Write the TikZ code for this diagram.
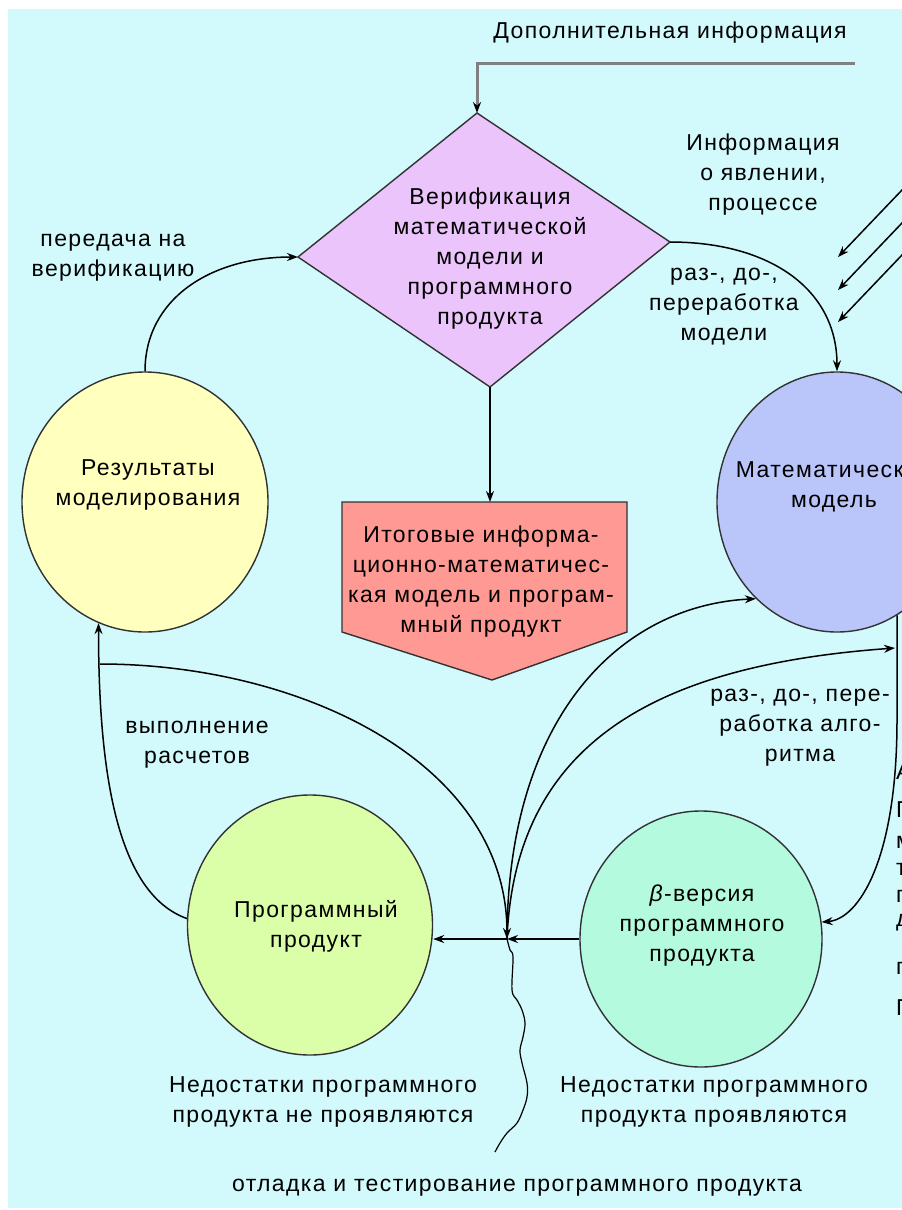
\documentclass[tikz,border=0pt]{standalone}
\usepackage{fontspec}
\setmainfont{Liberation Sans}[LetterSpace=6]
\usetikzlibrary{shapes.geometric,arrows.meta}
\definecolor{bgcyan}{RGB}{210,249,252}
\definecolor{verif}{RGB}{234,196,250}
\definecolor{finalfill}{RGB}{255,153,148}
\definecolor{resfill}{RGB}{255,255,190}
\definecolor{mmfill}{RGB}{186,197,250}
\definecolor{ppfill}{RGB}{218,255,168}
\definecolor{betafill}{RGB}{180,250,222}
\definecolor{edge}{RGB}{50,50,50}
\definecolor{feed}{RGB}{128,128,128}
\begin{document}
\begin{tikzpicture}[x=1pt,y=-1pt,
  lbl/.style={align=center,font=\fontsize{23}{30}\selectfont,inner sep=0pt},
  bubble/.style={ellipse,draw=edge,line width=1.4pt,inner sep=0pt},
  shapeline/.style={draw=edge,line width=1.4pt},
  arr/.style={line width=1.5pt,-{Stealth[length=11pt,width=8pt]}},
  feedline/.style={draw=feed,line width=3pt,-{Stealth[length=11pt,width=8pt,color=black]}},
]
\useasboundingbox (0,0) rectangle (902,1210);
\fill[white] (0,0) rectangle (902,1210);
\clip (0,0) rectangle (902,1210);
\fill[bgcyan] (8,9) rectangle (902,1208);

% verification diamond
\coordinate (dT) at (477,113);
\coordinate (dR) at (670,242);
\coordinate (dB) at (490,387);
\coordinate (dL) at (298,257);
\filldraw[fill=verif,shapeline] (dT) -- (dR) -- (dB) -- (dL) -- cycle;
\node[lbl] (verifT) at (490,259) {Верификация\\математической\\модели и\\программного\\продукта};

% final product (pentagon pointing down)
\coordinate (fTL) at (342,502);
\coordinate (fTR) at (627,502);
\coordinate (fBR) at (627,632);
\coordinate (fB) at (492,680);
\coordinate (fBL) at (342,632);
\coordinate (fTop) at (490,502);
\filldraw[fill=finalfill,shapeline] (fTL) -- (fTR) -- (fBR) -- (fB) -- (fBL) -- cycle;
\node[lbl] (finalT) at (481,582) {Итоговые информа-\\ционно-математичес-\\кая модель и програм-\\мный продукт};

% circles
\node[bubble,fill=resfill,minimum width=246pt,minimum height=260pt] (res) at (145,502) {};
\node[bubble,fill=mmfill,minimum width=240pt,minimum height=260pt] (mm) at (837,502) {};
\node[bubble,fill=ppfill,minimum width=245pt,minimum height=260pt] (pp) at (310,925) {};
\node[bubble,fill=betafill,minimum width=242pt,minimum height=256pt] (beta) at (701,939) {};

\node[lbl] (resT) at (148,485) {Результаты\\моделирования};
\node[lbl] (mmT) at (834,487) {Математическая\\модель};
\node[lbl] (ppT) at (316,926) {Программный\\продукт};
\node[lbl] (betaT) at (702,926) {\textit{β}-версия\\программного\\продукта};

% incoming additional information
\coordinate (addL) at (855,63);
\node[lbl] (addT) at (670,33) {Дополнительная информация};
\draw[feedline] (addL) -| (dT);

% information about the phenomenon
\node[lbl] (infoT) at (763,175) {Информация\\о явлении,\\процессе};
\coordinate (in1) at (966,123);
\coordinate (in2) at (966,156);
\coordinate (in3) at (966,188);
\coordinate (in1e) at (838,257);
\coordinate (in2e) at (838,290);
\coordinate (in3e) at (838,322);
\draw[arr] (in1) -- (in1e);
\draw[arr] (in2) -- (in2e);
\draw[arr] (in3) -- (in3e);

% main connectors
\draw[arr] (res.north) .. controls +(0,-72) and +(-88,0) .. (dL);
\node[lbl] (toVerT) at (113,258) {передача на\\верификацию};

\draw[arr] (dR) .. controls +(100,0) and +(0,-82) .. (mm.north);
\node[lbl] (modT) at (724,307) {раз-, до-,\\переработка\\модели};

\draw[arr] (dB) -- (fTop);

\coordinate (br) at (100,664);
\coordinate (J) at (507,939);
\coordinate (alg) at (895,648);
\coordinate (bend) at (897,720);

\draw[arr] (pp.177) .. controls +(-70,-25) and +(0,150) .. (res.249);
\node[lbl] (calcT) at (197,745) {выполнение\\расчетов};

\draw[arr] (br) .. controls +(200,0) and +(0,-177) .. (J);
\draw[arr] (beta.west) -- (J);
\draw[arr] (J) -- (pp.east |- J);
\draw[arr] (J) .. controls +(0,-219) and +(-138,7) .. (mm.230);
\draw[arr] (J) .. controls +(8,-199) and +(-235,17) .. (alg);
\draw[arr] (mm.-62) -- (bend) .. controls +(0,140) and +(37,-3) .. (beta.8);
\node[lbl] (algT) at (800,728) {раз-, до-, пере-\\работка алго-\\ритма};

% debugging and testing
\coordinate (dbgEnd) at (495,1152);
\draw[line width=1.2pt] plot[smooth,tension=0.6] coordinates {(J) (510,950) (513,957) (512,990) (517,1000) (522,1010) (525,1023) (523,1037) (520,1050) (522,1063) (527,1083) (527,1097) (523,1110) (517,1123) (507,1133) (500,1143) (dbgEnd)};

\node[lbl] (noDefT) at (323,1102) {Недостатки программного\\продукта не проявляются};
\node[lbl] (defT) at (714,1102) {Недостатки программного\\продукта проявляются};
\node[lbl] (dbgT) at (517,1188) {отладка и тестирование программного продукта};

% text running past the right edge
\foreach \yy/\ch [count=\i] in {772/А,810/П,842/м,869/т,896/п,923/д,968/п,1008/П}
  \node[lbl,anchor=west] (edge\i) at (896,\yy) {\ch};
\end{tikzpicture}
\end{document}
